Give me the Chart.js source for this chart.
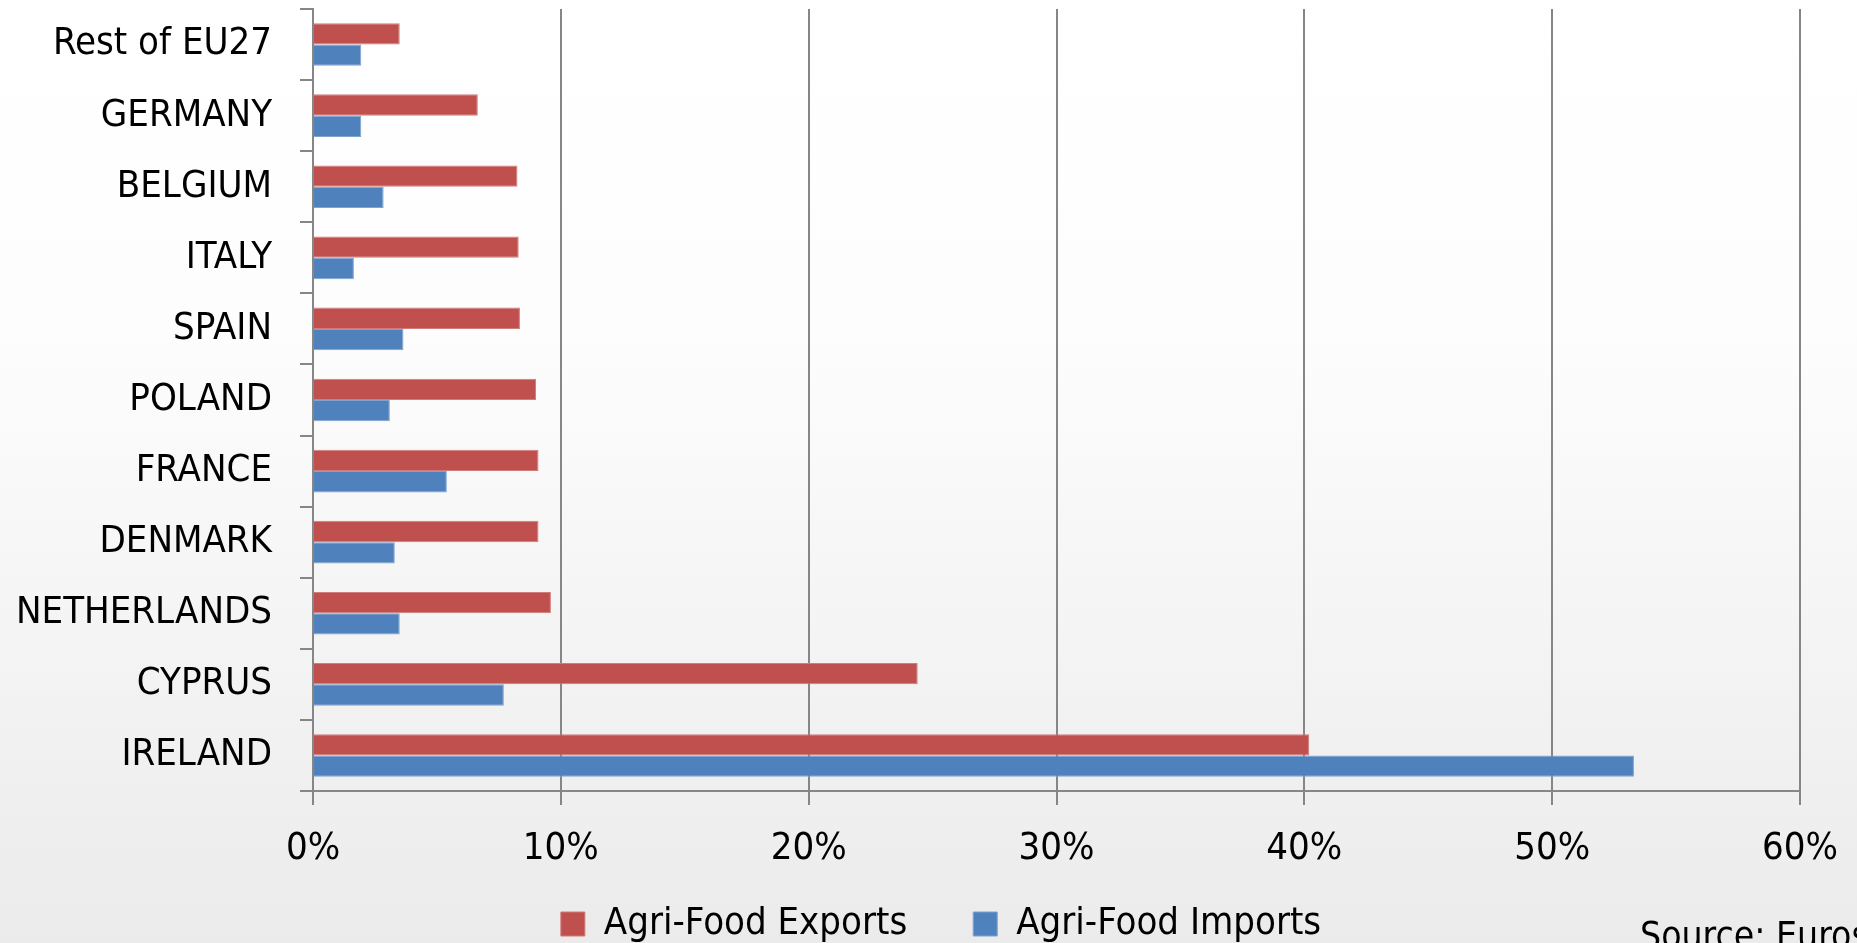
<!DOCTYPE html>
<html>
<head>
<meta charset="utf-8">
<script src="https://cdn.jsdelivr.net/npm/chart.js@4"></script>
<style>
  html, body { margin: 0; padding: 0; background: #ffffff; }
  #wrap { width: 1857px; height: 943px; }
</style>
</head>
<body>
<div id="wrap"><canvas id="tradeChart" width="1857" height="943"></canvas></div>
<script>
// countries, top to bottom
const countries = ['Rest of EU27', 'GERMANY', 'BELGIUM', 'ITALY', 'SPAIN', 'POLAND',
  'FRANCE', 'DENMARK', 'NETHERLANDS', 'CYPRUS', 'IRELAND'];

// share of agri-food trade, in %
const exportsShare = [3.5, 6.65, 8.25, 8.3, 8.35, 9.0, 9.1, 9.1, 9.6, 24.4, 40.2];
const importsShare = [1.95, 1.95, 2.85, 1.65, 3.65, 3.1, 5.4, 3.3, 3.5, 7.7, 53.3];

const xTickLabels = ['0%', '10%', '20%', '30%', '40%', '50%', '60%'];

const sourceNote = 'Source: Eurostat';

const fontFamily = '"DejaVu Sans Condensed", "Liberation Sans", Arial, sans-serif';
const axisGrey = '#868686';

// soft white-to-grey backdrop + source note
const backdrop = {
  id: 'backdrop',
  beforeDraw(chart) {
    const ctx = chart.ctx;
    const g = ctx.createLinearGradient(0, 0, 0, chart.height);
    g.addColorStop(0, '#ffffff');
    g.addColorStop(0.35, '#fdfdfd');
    g.addColorStop(1, '#ebebeb');
    ctx.save();
    ctx.fillStyle = g;
    ctx.fillRect(0, 0, chart.width, chart.height);
    ctx.restore();
  },
  afterDraw(chart) {
    const ctx = chart.ctx;
    ctx.save();
    ctx.font = '37px ' + fontFamily;
    ctx.fillStyle = '#000000';
    ctx.textAlign = 'left';
    ctx.textBaseline = 'alphabetic';
    ctx.fillText(sourceNote, 1640, 948);
    ctx.restore();
  }
};

const legendPad = 66;

// scale boxes are kept tight, so let tick labels spill outside them
const noLabelClip = scale => { scale._computeLabelArea = () => null; };

const ctx = document.getElementById('tradeChart').getContext('2d');
const tradeChart = new Chart(ctx, {
  type: 'bar',
  data: {
    labels: countries,
    datasets: [{
      label: 'Agri-Food Exports',
      data: exportsShare,
      backgroundColor: '#C0504D',
      borderColor: '#CF7C7A',
      borderWidth: 1,
      borderSkipped: 'start'
    }, {
      label: 'Agri-Food Imports',
      data: importsShare,
      backgroundColor: '#4F81BD',
      borderColor: '#7FA2CF',
      borderWidth: 1,
      borderSkipped: 'start'
    }]
  },
  options: {
    indexAxis: 'y',
    responsive: false,
    animation: false,
    devicePixelRatio: 1,
    categoryPercentage: 0.6,
    barPercentage: 1.0,
    layout: { padding: { top: 9, right: 57, left: 82, bottom: -10 } },
    plugins: {
      legend: {
        position: 'bottom',
        labels: {
          color: '#000000',
          font: { family: fontFamily, size: 38 },
          boxWidth: 24,
          boxHeight: 24,
          padding: legendPad
        }
      },
      tooltip: { enabled: false }
    },
    scales: {
      x: {
        min: 0,
        max: 60,
        ticks: {
          stepSize: 10,
          color: '#000000',
          font: { family: fontFamily, size: 38 },
          padding: 21,
          callback: (v, i) => xTickLabels[i]
        },
        grid: {
          color: axisGrey,
          lineWidth: 2,
          tickLength: 14
        },
        border: { color: axisGrey, width: 2 },
        afterFit(scale) {
          // plot bottom sits at y = 791
          scale.height = 114 - legendPad;
          scale.paddingLeft = 0;
          scale.paddingRight = 0;
          noLabelClip(scale);
        }
      },
      y: {
        ticks: {
          color: '#000000',
          font: { family: fontFamily, size: 38 },
          padding: 28
        },
        grid: {
          drawOnChartArea: false,
          color: axisGrey,
          lineWidth: 2,
          tickLength: 13
        },
        border: { color: axisGrey, width: 2 },
        afterFit(scale) {
          scale.width = 231;
          scale.paddingTop = 0;
          scale.paddingBottom = 0;
          noLabelClip(scale);
        }
      }
    }
  },
  plugins: [backdrop]
});
</script>
</body>
</html>
